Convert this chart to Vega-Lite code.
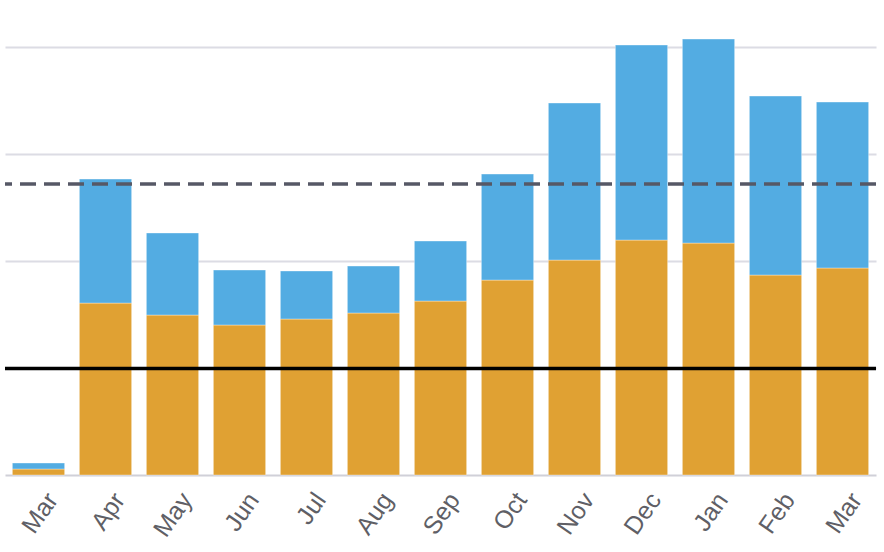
{
  "$schema": "https://vega.github.io/schema/vega-lite/v6.json",
  "width": 871,
  "height": 475,
  "autosize": {"type": "none"},
  "padding": {"left": 5, "top": 0, "right": 8, "bottom": 77},
  "background": "white",
  "config": {"view": {"stroke": null}},
  "layer": [
    {
      "data": {"values": [
        {"m": "Mar", "s": "A", "o": 1, "v": 5.6}, {"m": "Mar", "s": "B", "o": 2, "v": 5.6},
        {"m": "Apr", "s": "A", "o": 1, "v": 160.7}, {"m": "Apr", "s": "B", "o": 2, "v": 115.9},
        {"m": "May", "s": "A", "o": 1, "v": 149.5}, {"m": "May", "s": "B", "o": 2, "v": 76.7},
        {"m": "Jun", "s": "A", "o": 1, "v": 140.2}, {"m": "Jun", "s": "B", "o": 2, "v": 51.4},
        {"m": "Jul", "s": "A", "o": 1, "v": 145.8}, {"m": "Jul", "s": "B", "o": 2, "v": 44.9},
        {"m": "Aug", "s": "A", "o": 1, "v": 151.4}, {"m": "Aug", "s": "B", "o": 2, "v": 43.9},
        {"m": "Sep", "s": "A", "o": 1, "v": 162.6}, {"m": "Sep", "s": "B", "o": 2, "v": 56.1},
        {"m": "Oct", "s": "A", "o": 1, "v": 182.2}, {"m": "Oct", "s": "B", "o": 2, "v": 99.1},
        {"m": "Nov", "s": "A", "o": 1, "v": 200.9}, {"m": "Nov", "s": "B", "o": 2, "v": 146.8},
        {"m": "Dec", "s": "A", "o": 1, "v": 219.6}, {"m": "Dec", "s": "B", "o": 2, "v": 182.3},
        {"m": "Jan", "s": "A", "o": 1, "v": 216.8}, {"m": "Jan", "s": "B", "o": 2, "v": 190.7},
        {"m": "Feb", "s": "A", "o": 1, "v": 186.9}, {"m": "Feb", "s": "B", "o": 2, "v": 167.3},
        {"m": "Mar2", "s": "A", "o": 1, "v": 193.5}, {"m": "Mar2", "s": "B", "o": 2, "v": 155.1}
      ]},
      "mark": {"type": "bar", "stroke": "#ffffff", "strokeOpacity": 0.35, "strokeWidth": 1},
      "encoding": {
        "x": {
          "field": "m", "type": "nominal", "sort": null,
          "scale": {"paddingInner": 0.22, "paddingOuter": 0.11},
          "axis": {
            "title": null, "labelExpr": "replace(datum.value, '2', '')",
            "labelAngle": -55, "labelFontSize": 25, "labelColor": "#5f5f66",
            "labelFont": "Liberation Sans", "ticks": false, "labelPadding": 20,
            "labelOffset": 14,
            "domainColor": "#d0d0d8", "domainWidth": 2, "labelLimit": 200
          }
        },
        "y": {
          "field": "v", "type": "quantitative", "stack": "zero",
          "scale": {"domain": [0, 444], "nice": false},
          "axis": {
            "title": null, "labels": false, "ticks": false, "domain": false,
            "values": [100, 200, 300, 400], "gridColor": "#dcdce4", "gridWidth": 2
          }
        },
        "color": {
          "field": "s", "type": "nominal", "legend": null,
          "scale": {"domain": ["A", "B"], "range": ["#E0A133", "#53ACE2"]}
        },
        "order": {"field": "o", "type": "quantitative"}
      }
    },
    {
      "data": {"values": [{"y": 272, "k": "dash"}]},
      "mark": {"type": "rule", "color": "#565866", "strokeWidth": 3.5, "strokeDash": [16, 8]},
      "encoding": {"y": {"field": "y", "type": "quantitative"}}
    },
    {
      "data": {"values": [{"y": 99.5, "k": "solid"}]},
      "mark": {"type": "rule", "color": "#000000", "strokeWidth": 3.5},
      "encoding": {"y": {"field": "y", "type": "quantitative"}}
    }
  ]
}
